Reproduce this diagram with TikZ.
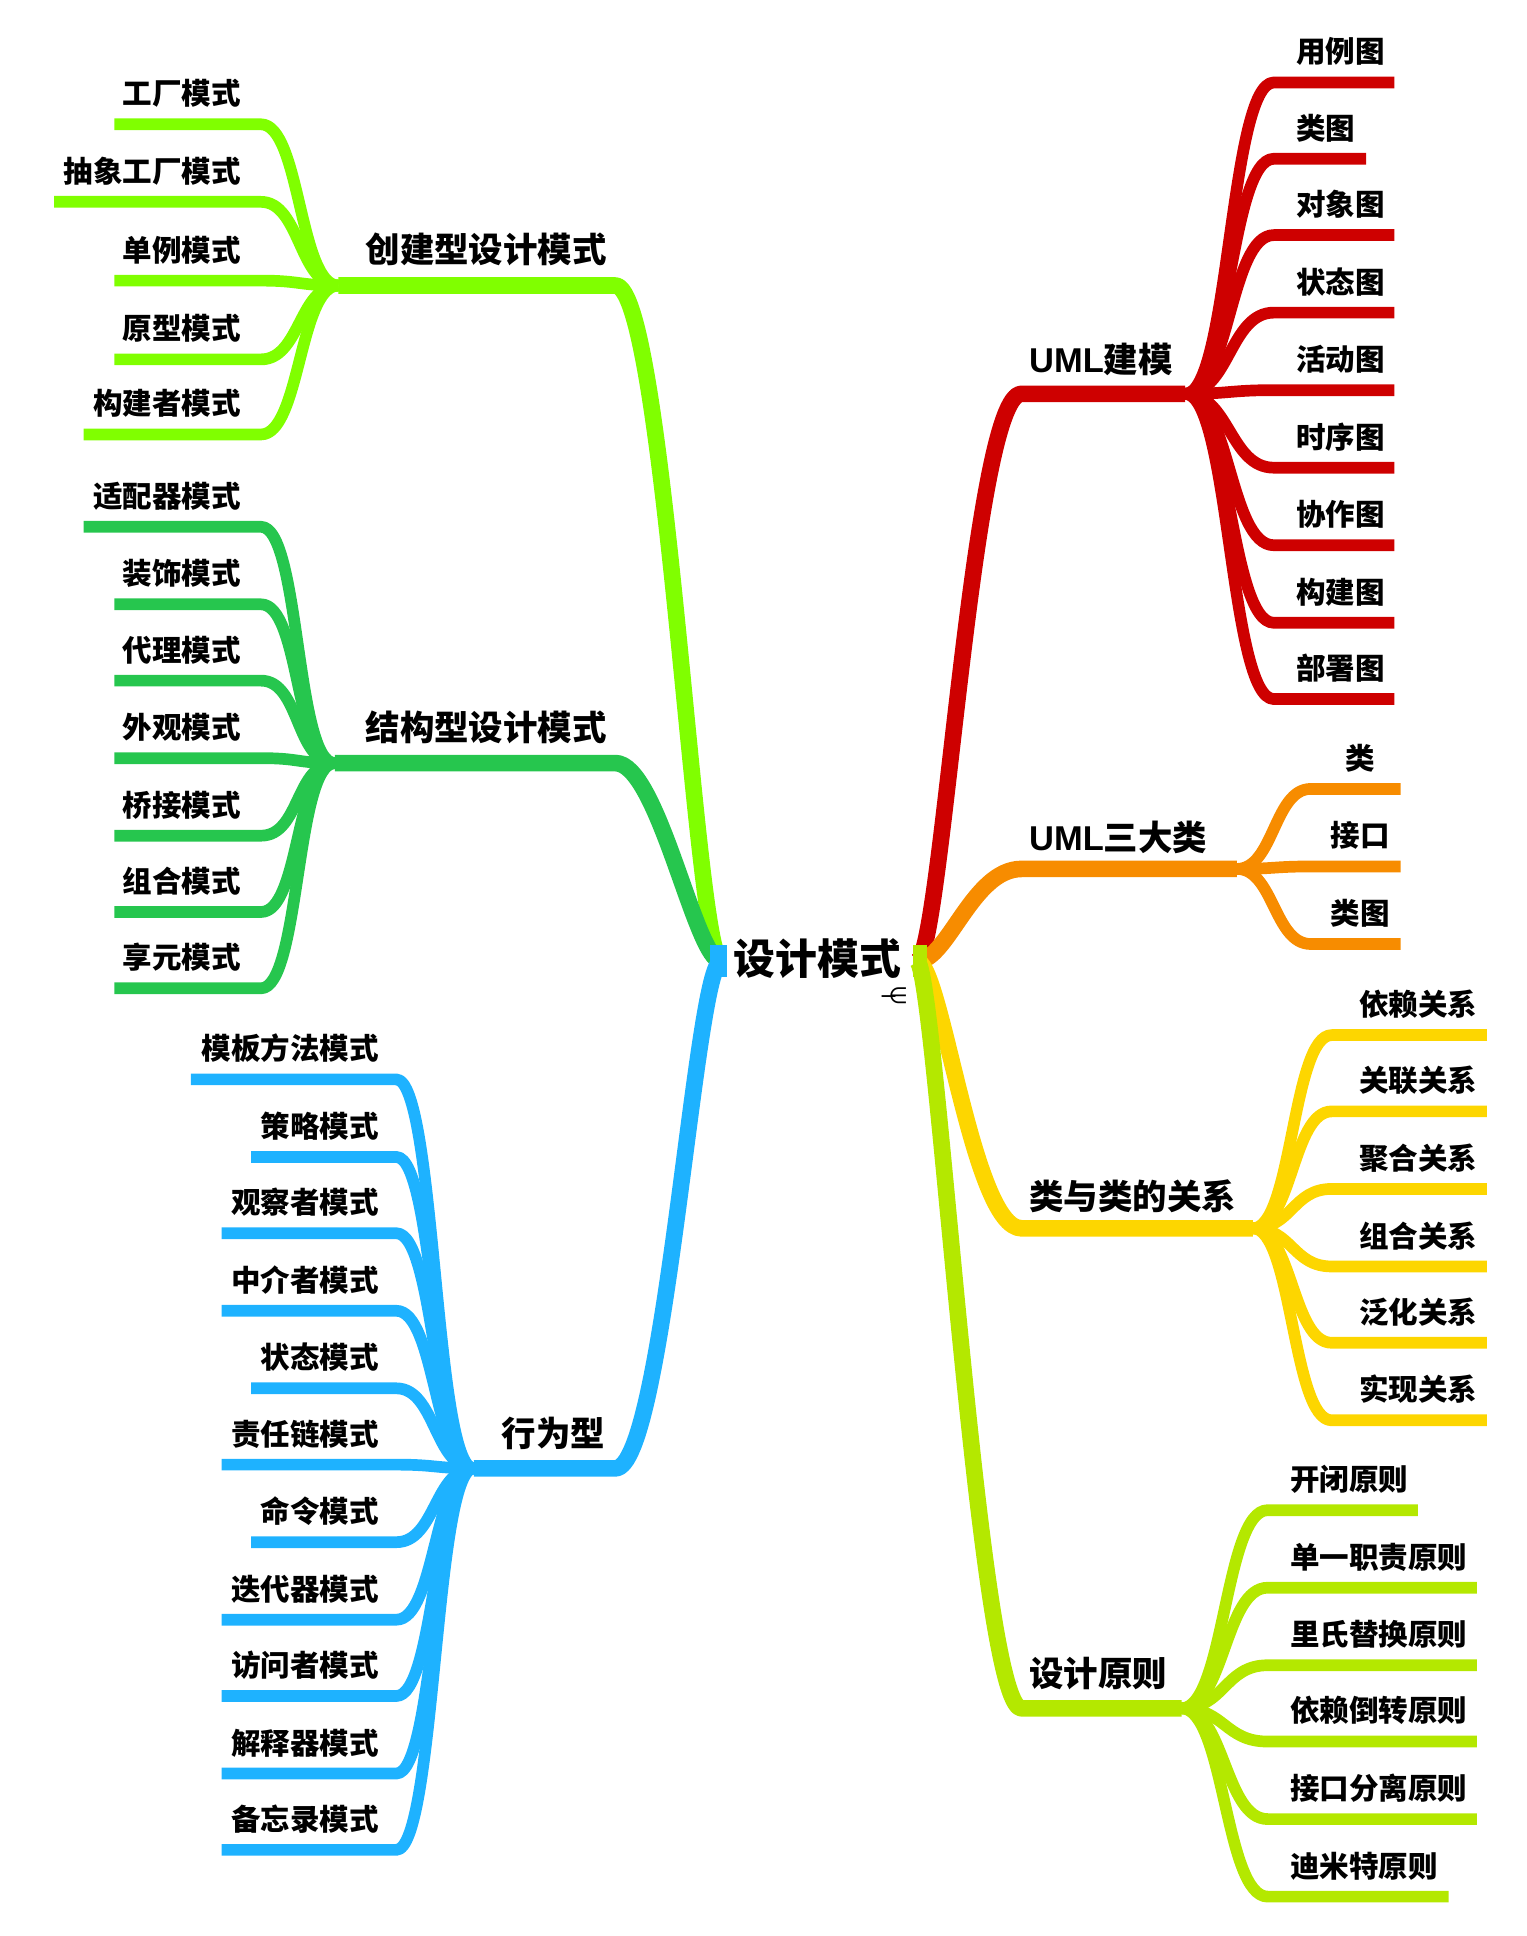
\documentclass[tikz,border=0pt]{standalone}
\usepackage{fontspec}
\setmainfont{Noto Sans CJK SC}
\newfontfamily\latf{Liberation Sans}
\newfontfamily\symf{DejaVu Sans}
\definecolor{cLime}{RGB}{128,255,0}
\definecolor{cGreen}{RGB}{38,198,78}
\definecolor{cBlue}{RGB}{30,178,255}
\definecolor{cRed}{RGB}{206,0,0}
\definecolor{cOrange}{RGB}{247,140,0}
\definecolor{cYellow}{RGB}{253,214,0}
\definecolor{cYG}{RGB}{180,232,0}
\tikzset{
  lbl/.style={font=\bfseries\fontsize{24}{24}\selectfont, inner sep=0pt},
  mlbl/.style={font=\bfseries\fontsize{28}{28}\selectfont, inner sep=0pt},
  rootlbl/.style={font=\bfseries\fontsize{34}{34}\selectfont, inner sep=0pt},
  br/.style={line width=13.5pt, line join=round},
  ch/.style={line width=9.5pt, line join=round},
  stub/.style={line width=26pt},
}
\begin{document}
\begin{tikzpicture}[x=1pt,y=-1pt]
\useasboundingbox (0,0) rectangle (1240,1573);
\node[rootlbl] (c) at (664,779) {设计模式};
\node[inner sep=0pt, font=\symf\fontsize{18}{18}\selectfont] (cicon) at (726,809) {−\kern-0.42em∈};
\coordinate (rootL) at (586,781);
\coordinate (rootR) at (745,781);
\coordinate (stubL1) at (577,781);
\coordinate (stubL2) at (591,781);
\coordinate (stubR1) at (742,781);
\coordinate (stubR2) at (753,781);

% ---------- A: creational
\coordinate (Ab) at (500,232);
\coordinate (Aj) at (275,232);
\draw[br, cLime] (rootL) .. controls (565,781) and (540,232) .. (Ab) -- (Aj);
\node[mlbl] (A) at (395,203) {创建型设计模式};
\foreach \t/\y/\l [count=\i] in {工厂模式/101/93, 抽象工厂模式/164/44, 单例模式/228/93, 原型模式/292/93, 构建者模式/353/68}{
  \coordinate (Ae\i) at (\l,\y);
  \coordinate (Ac\i) at (212,\y);
  \node[lbl, anchor=east] (At\i) at (196,\y-25) {\t};
  \draw[ch, cLime] (Aj) .. controls +(-32,0) and +(32,0) .. (Ac\i) -- (Ae\i);
}

% ---------- B: structural
\coordinate (Bb) at (500,620);
\coordinate (Bj) at (272,620);
\draw[br, cGreen] (rootL) .. controls (565,781) and (535,620) .. (Bb) -- (Bj);
\node[mlbl] (B) at (395,591) {结构型设计模式};
\foreach \t/\y/\l [count=\i] in {适配器模式/428/68, 装饰模式/491/93, 代理模式/553/93, 外观模式/616/93, 桥接模式/679/93, 组合模式/741/93, 享元模式/803/93}{
  \coordinate (Be\i) at (\l,\y);
  \coordinate (Bc\i) at (212,\y);
  \node[lbl, anchor=east] (Bt\i) at (196,\y-25) {\t};
  \draw[ch, cGreen] (Bj) .. controls +(-32,0) and +(32,0) .. (Bc\i) -- (Be\i);
}

% ---------- C: behavioural
\coordinate (Cb) at (500,1193);
\coordinate (Cj) at (385,1193);
\draw[br, cBlue] (rootL) .. controls (565,781) and (540,1193) .. (Cb) -- (Cj);
\node[mlbl, anchor=east] (C) at (492,1165) {行为型};
\foreach \t/\y/\l [count=\i] in {模板方法模式/877/155, 策略模式/940/204, 观察者模式/1002/180, 中介者模式/1065/180, 状态模式/1128/204, 责任链模式/1190/180, 命令模式/1253/204, 迭代器模式/1316/180, 访问者模式/1378/180, 解释器模式/1441/180, 备忘录模式/1503/180}{
  \coordinate (Ce\i) at (\l,\y);
  \coordinate (Cc\i) at (322,\y);
  \node[lbl, anchor=east] (Ct\i) at (308,\y-25) {\t};
  \draw[ch, cBlue] (Cj) .. controls +(-32,0) and +(32,0) .. (Cc\i) -- (Ce\i);
}
\draw[stub, cBlue] (stubL1) -- (stubL2);

% ---------- D: UML modelling
\coordinate (Db) at (830,320);
\coordinate (Dj) at (963,320);
\draw[br, cRed] (rootR) .. controls (765,781) and (790,320) .. (Db) -- (Dj);
\node[mlbl, anchor=west] (D) at (836,292) {{\latf UML}建模};
\foreach \t/\y/\r [count=\i] in {用例图/67/1133, 类图/129/1110, 对象图/191/1133, 状态图/254/1133, 活动图/317/1133, 时序图/380/1133, 协作图/443/1133, 构建图/506/1133, 部署图/568/1133}{
  \coordinate (De\i) at (\r,\y);
  \coordinate (Dc\i) at (1035,\y);
  \node[lbl, anchor=west] (Dt\i) at (1053,\y-25) {\t};
  \draw[ch, cRed] (Dj) .. controls +(36,0) and +(-36,0) .. (Dc\i) -- (De\i);
}

% ---------- E: UML three classes
\coordinate (Eb) at (830,706);
\coordinate (Ej) at (1005,706);
\draw[br, cOrange] (rootR) .. controls (770,781) and (790,706) .. (Eb) -- (Ej);
\node[mlbl, anchor=west] (E) at (836,680) {{\latf UML}三大类};
\foreach \t/\y/\r [count=\i] in {类/641/1138, 接口/704/1138, 类图/767/1138}{
  \coordinate (Ee\i) at (\r,\y);
  \coordinate (Ec\i) at (1065,\y);
  \node[lbl] (Et\i) at (1105,\y-25) {\t};
  \draw[ch, cOrange] (Ej) .. controls +(30,0) and +(-30,0) .. (Ec\i) -- (Ee\i);
}

% ---------- F: class relations
\coordinate (Fb) at (830,998);
\coordinate (Fj) at (1018,998);
\draw[br, cYellow] (rootR) .. controls (765,781) and (790,998) .. (Fb) -- (Fj);
\node[mlbl, anchor=west] (F) at (836,972) {类与类的关系};
\foreach \t/\y/\r [count=\i] in {依赖关系/841/1208, 关联关系/903/1208, 聚合关系/966/1208, 组合关系/1029/1208, 泛化关系/1091/1208, 实现关系/1154/1208}{
  \coordinate (Fe\i) at (\r,\y);
  \coordinate (Fc\i) at (1082,\y);
  \node[lbl, anchor=west] (Ft\i) at (1104,\y-25) {\t};
  \draw[ch, cYellow] (Fj) .. controls +(32,0) and +(-32,0) .. (Fc\i) -- (Fe\i);
}

% ---------- G: design principles
\coordinate (Gb) at (830,1388);
\coordinate (Gj) at (960,1388);
\draw[br, cYG] (rootR) .. controls (760,781) and (795,1388) .. (Gb) -- (Gj);
\node[mlbl, anchor=west] (G) at (836,1360) {设计原则};
\foreach \t/\y/\r [count=\i] in {开闭原则/1227/1152, 单一职责原则/1290/1200, 里氏替换原则/1353/1200, 依赖倒转原则/1415/1200, 接口分离原则/1478/1200, 迪米特原则/1541/1177}{
  \coordinate (Ge\i) at (\r,\y);
  \coordinate (Gc\i) at (1030,\y);
  \node[lbl, anchor=west] (Gt\i) at (1048,\y-25) {\t};
  \draw[ch, cYG] (Gj) .. controls +(35,0) and +(-35,0) .. (Gc\i) -- (Ge\i);
}
\draw[stub, cYG] (stubR1) -- (stubR2);
\end{tikzpicture}
\end{document}
